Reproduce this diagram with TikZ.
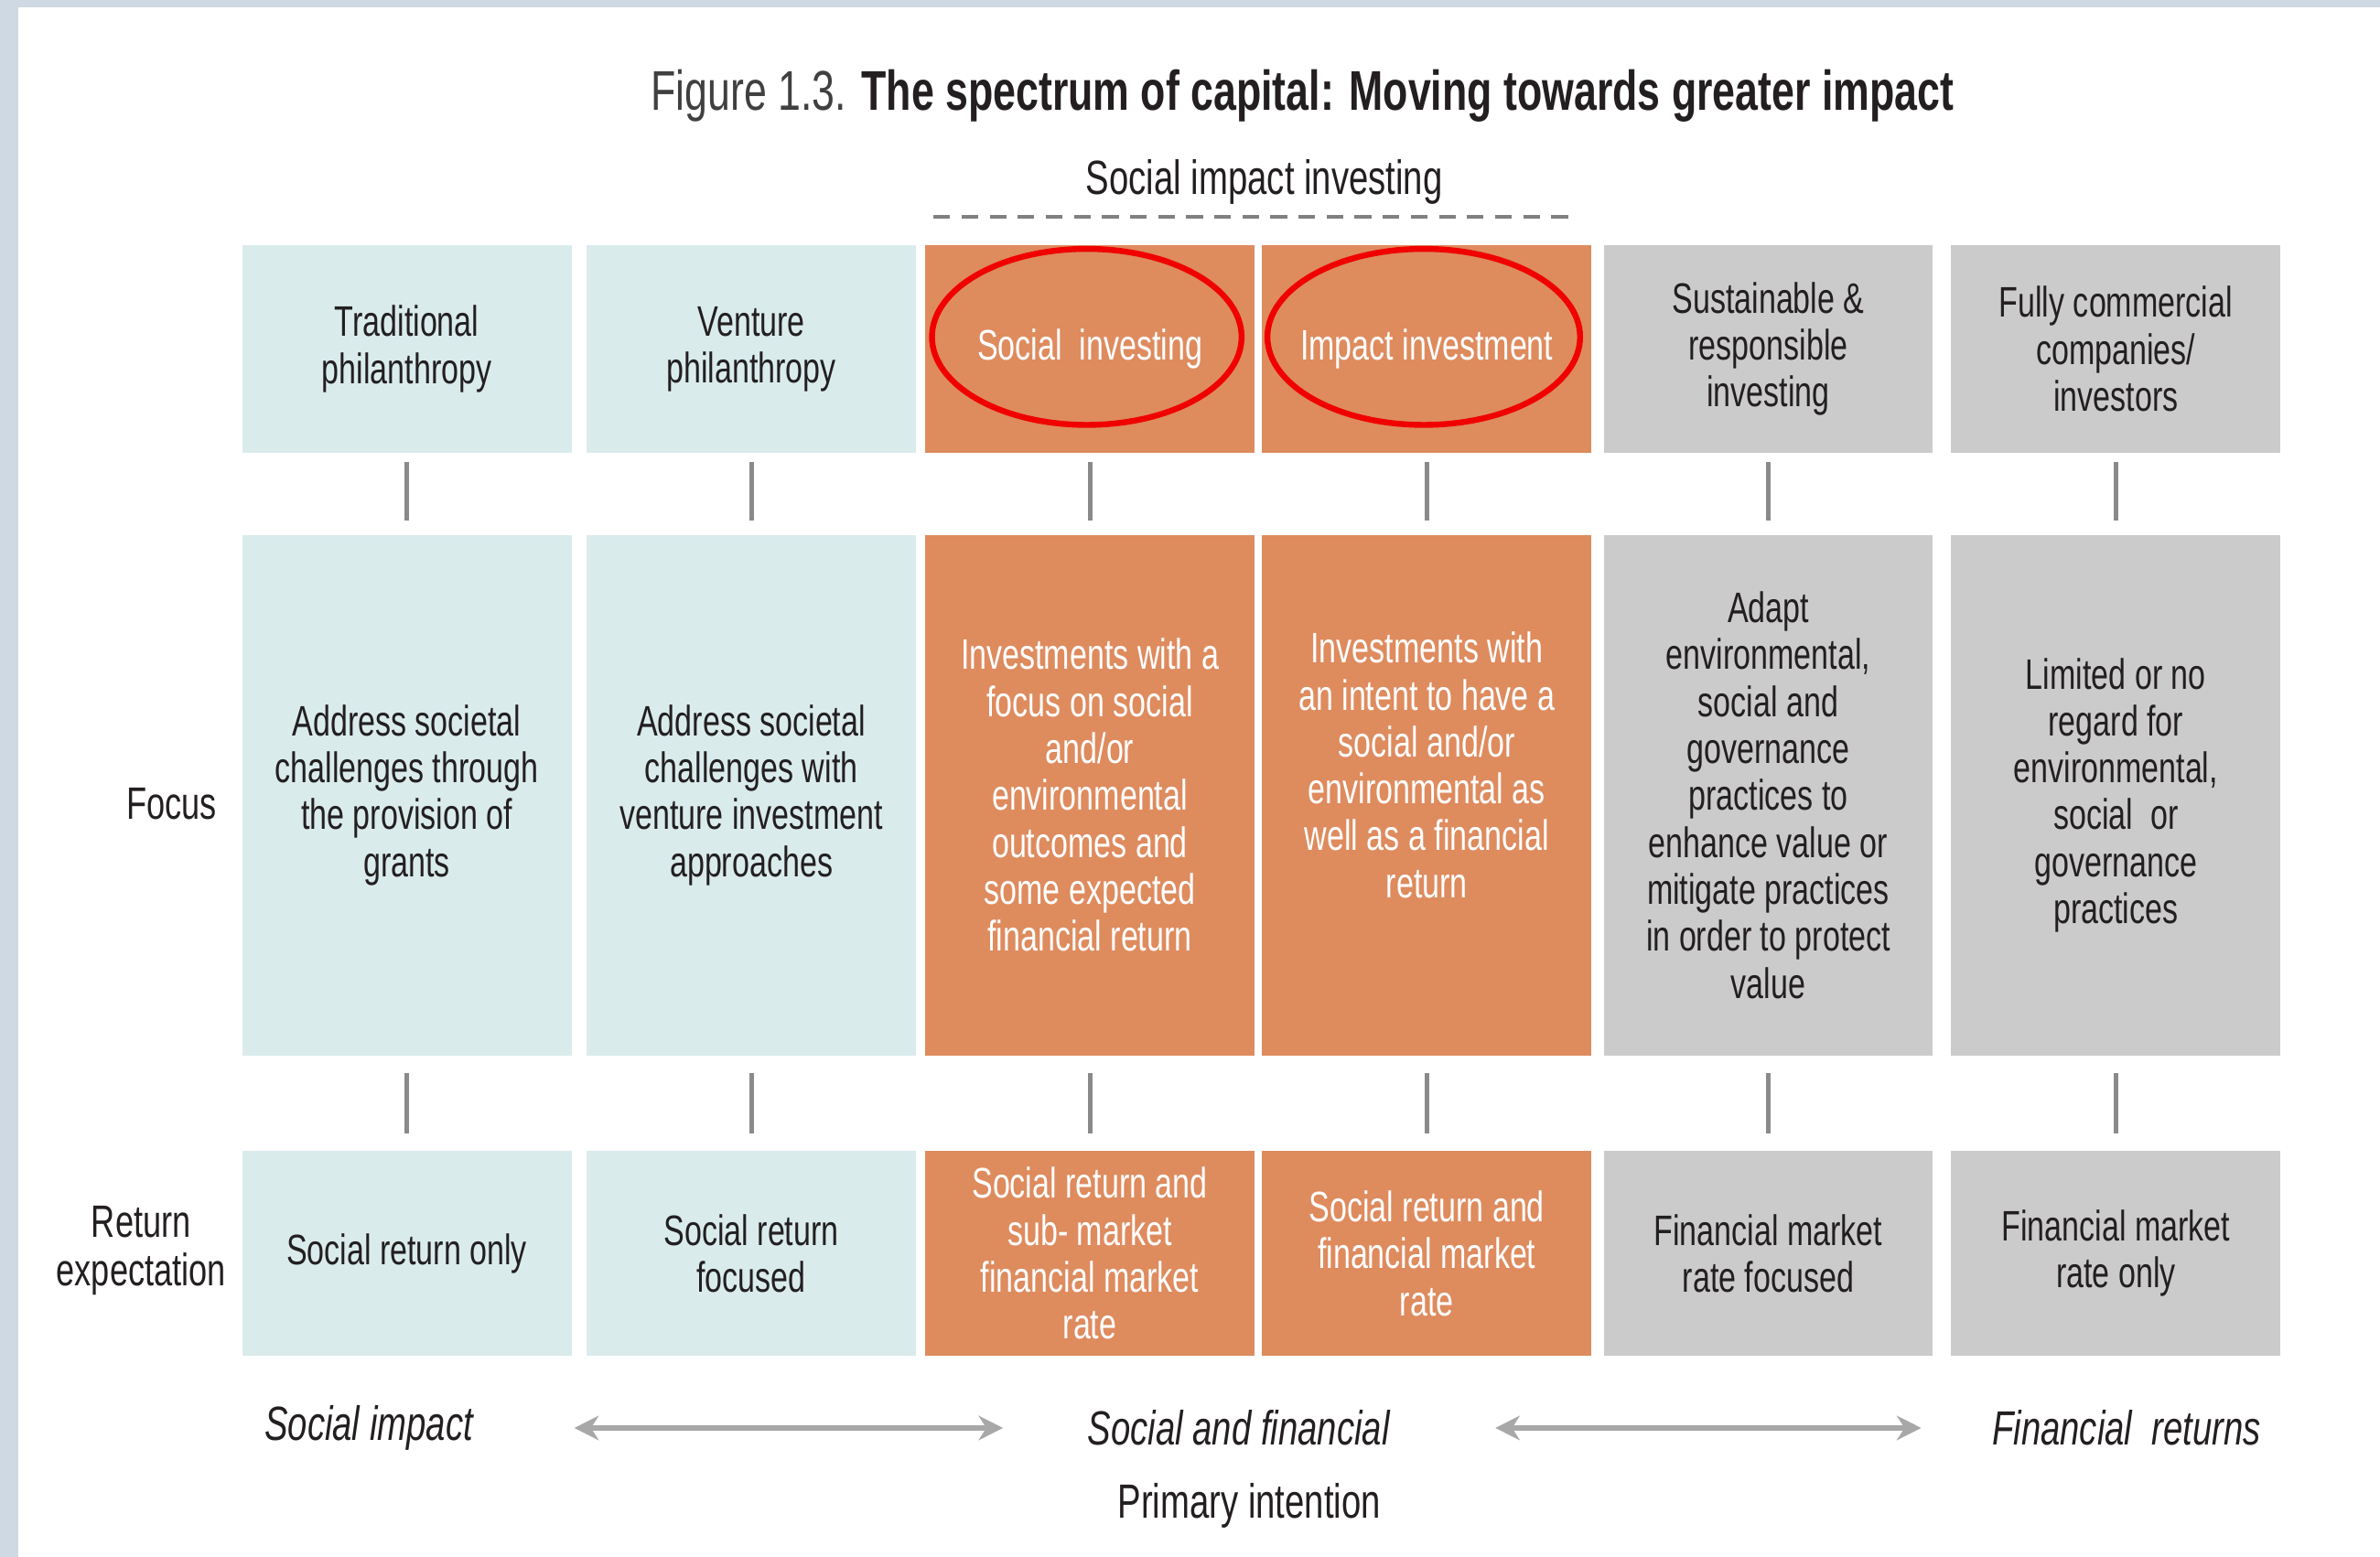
\documentclass[tikz,border=0pt]{standalone}
\usepackage{fontspec}
\setmainfont{Liberation Sans}[FakeStretch=0.73]
\usetikzlibrary{arrows.meta}
\definecolor{frameblue}{HTML}{CED9E3}
\definecolor{paleblue}{HTML}{DAEBEC}
\definecolor{impactorange}{HTML}{DE8B5E}
\definecolor{marketgray}{HTML}{CBCBCB}
\definecolor{inkdark}{HTML}{231F20}
\definecolor{tickgray}{HTML}{8A8A8A}
\definecolor{arrowgray}{HTML}{A8A8A8}
\definecolor{ringred}{HTML}{F00000}

\begin{document}
\begin{tikzpicture}[x=0.1mm,y=-0.1mm]
		\tikzstyle{every node}=[text=inkdark,font=\fontsize{8}{8.8}\selectfont,align=center,inner sep=0pt];
		\tikzstyle{cell}=[rectangle,minimum width=21.7mm];
		\tikzstyle{namecell}=[cell,minimum height=13.7mm];
		\tikzstyle{focuscell}=[cell,minimum height=34.3mm];
		\tikzstyle{returncell}=[cell,minimum height=13.5mm];
		\tikzstyle{philan}=[fill=paleblue];
		\tikzstyle{impact}=[fill=impactorange,text=white];
		\tikzstyle{market}=[fill=marketgray];
		\tikzstyle{linktick}=[draw=tickgray,line width=0.85pt];
		\tikzstyle{ringmark}=[draw=ringred,line width=1.1pt];
		\tikzstyle{spreadarrow}=[draw=arrowgray,line width=1pt,{Stealth[length=1.6mm,width=1.6mm,inset=0.5mm]}-{Stealth[length=1.6mm,width=1.6mm,inset=0.5mm]}];
		\tikzstyle{axislabel}=[font=\fontsize{9}{10}\selectfont\itshape];
		% frame
		\fill[frameblue] (0,0) rectangle (1568,1026);
		\fill[white] (12,5) rectangle (1568,1026);
		% heading
		\node[font=\fontsize{10.5}{12}\selectfont] (title) at (858,63) {{\color{black!75}Figure 1.3.} \textbf{The spectrum of capital: Moving towards greater impact}};
		\node[font=\fontsize{9}{10}\selectfont] (sii) at (833,120) {Social impact investing};
		\coordinate (sil) at (615,143);
		\coordinate (sir) at (1040,143);
		\draw[draw=gray,line width=0.6pt,dash pattern=on 1.1mm off 0.75mm] (sil) -- (sir);
		% names
		\node[namecell,philan] (t1) at (268,230) {Traditional\\philanthropy};
		\node[namecell,philan] (t2) at (495,230) {Venture\\philanthropy};
		\node[namecell,impact] (t3) at (718,230) {Social\ \ investing};
		\node[namecell,impact] (t4) at (940,230) {Impact investment};
		\node[namecell,market] (t5) at (1165,230) {Sustainable \&\\responsible\\investing};
		\node[namecell,market] (t6) at (1394,230) {Fully commercial\\companies/\\investors};
		% focus
		\node[focuscell,philan] (f1) at (268,524) {Address societal\\challenges through\\the provision of\\grants};
		\node[focuscell,philan] (f2) at (495,524) {Address societal\\challenges with\\venture investment\\approaches};
		\node[focuscell,impact] (f3) at (718,524) {Investments with a\\focus on social\\and/or\\environmental\\outcomes and\\some expected\\financial return};
		\node[focuscell,impact] (f4) at (940,524) {Investments with\\an intent to have a\\social and/or\\environmental as\\well as a financial\\return\\[0.9mm]\mbox{}};
		\node[focuscell,market] (f5) at (1165,524) {Adapt\\environmental,\\social and\\governance\\practices to\\enhance value or\\mitigate practices\\in order to protect\\value};
		\node[focuscell,market] (f6) at (1394,524) {Limited or no\\regard for\\environmental,\\social\ \ or\\governance\\practices};
		% return
		\node[returncell,philan] (r1) at (268,826) {Social return only};
		\node[returncell,philan] (r2) at (495,826) {Social return\\focused};
		\node[returncell,impact] (r3) at (718,826) {Social return and\\sub- market\\financial market\\rate};
		\node[returncell,impact] (r4) at (940,826) {Social return and\\financial market\\rate};
		\node[returncell,market] (r5) at (1165,826) {Financial market\\rate focused};
		\node[returncell,market] (r6) at (1394,826) {Financial market\\rate only};
		\draw[ringmark] (716,222) ellipse [x radius=10.2mm,y radius=5.8mm];
		\draw[ringmark] (938,222) ellipse [x radius=10.3mm,y radius=5.8mm];
		\draw[linktick,shorten <=0.5mm,shorten >=0.9mm] (t1) -- (f1);
		\draw[linktick,shorten <=0.5mm,shorten >=0.9mm] (t2) -- (f2);
		\draw[linktick,shorten <=0.5mm,shorten >=0.9mm] (t3) -- (f3);
		\draw[linktick,shorten <=0.5mm,shorten >=0.9mm] (t4) -- (f4);
		\draw[linktick,shorten <=0.5mm,shorten >=0.9mm] (t5) -- (f5);
		\draw[linktick,shorten <=0.5mm,shorten >=0.9mm] (t6) -- (f6);
		\draw[linktick,shorten <=1.1mm,shorten >=1.1mm] (f1) -- (r1);
		\draw[linktick,shorten <=1.1mm,shorten >=1.1mm] (f2) -- (r2);
		\draw[linktick,shorten <=1.1mm,shorten >=1.1mm] (f3) -- (r3);
		\draw[linktick,shorten <=1.1mm,shorten >=1.1mm] (f4) -- (r4);
		\draw[linktick,shorten <=1.1mm,shorten >=1.1mm] (f5) -- (r5);
		\draw[linktick,shorten <=1.1mm,shorten >=1.1mm] (f6) -- (r6);
		% row labels
		\node[font=\fontsize{8.5}{10}\selectfont] (focus) at (113,530) {Focus};
		\node[font=\fontsize{8.5}{9.1}\selectfont] (expect) at (93,824) {Return\\expectation};
		% primary intention
		\node[axislabel] (si) at (243,941) {Social impact};
		\node[axislabel] (sf) at (816,941) {Social and financial};
		\node[axislabel] (fr) at (1401,941) {Financial\ \ returns};
		\node[font=\fontsize{9}{10}\selectfont] (pi) at (823,992) {Primary intention};
		\draw[spreadarrow,shorten <=6.6mm,shorten >=5.5mm] (si) -- (sf);
		\draw[spreadarrow,shorten <=6.9mm,shorten >=4.6mm] (sf) -- (fr);
\end{tikzpicture}
\end{document}
